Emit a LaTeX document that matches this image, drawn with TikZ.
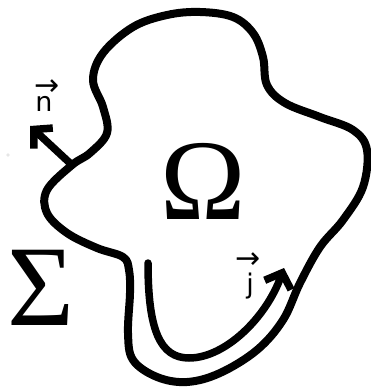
\documentclass[tikz,border=0pt]{standalone}
\usepackage{fix-cm}
\usepackage{fontspec}
\setsansfont{DejaVu Sans}
\newfontfamily\symserif{Liberation Serif}
\usetikzlibrary{arrows.meta,positioning}
\tikzset{
  %% closed boundary of the domain
  boundary/.style={line width=8pt, line join=round, line cap=round},
  %% thick hand-drawn vectors
  vecarr/.style={-{Straight Barb[length=13pt,width=28pt]},
                 line width=7.5pt, line cap=round, line join=round},
  %% large symbols
  bigsym/.style={font=\symserif\fontsize{115}{115}\selectfont, inner sep=0pt},
  %% vector labels (letter and its arrow)
  veclab/.style={font=\sffamily\fontsize{27}{27}\selectfont, inner sep=0pt, anchor=base},
  vecarrow/.style={veclab, font=\sffamily\fontsize{30}{30}\selectfont,
                   text height=14pt, text depth=0pt}
}

\begin{document}
\begin{tikzpicture}[x=1pt, y=-1pt]

\useasboundingbox (0,0) rectangle (370,387);

% ════════════════════════════════════════════════════════════
% BOUNDARY  Sigma
% ════════════════════════════════════════════════════════════
\draw[boundary] plot[smooth cycle, tension=0.6] coordinates {
  (72,165) (47,190) (47,213) (67,233) (97,248) (123,257) (129,270)
  (130,293) (128,333) (133,360) (157,377) (187,382) (220,373)
  (257,350) (283,320) (300,283) (320,247) (343,220) (363,187)
  (367,150) (353,130) (320,117) (285,103) (267,85) (263,57)
  (253,33) (233,17) (200,12) (167,15) (133,27) (103,53) (93,80)
  (103,107) (107,133) (90,153)};

% ════════════════════════════════════════════════════════════
% SYMBOLS
% ════════════════════════════════════════════════════════════
\node[bigsym] (omega) at (203,181) {Ω};
\node[bigsym] (sigma) at (41,288) {Σ};

% faint dot at the left edge
\node[circle, draw=gray!40, line width=0.4pt, inner sep=1pt] (dot) at (8,155) {};

% ════════════════════════════════════════════════════════════
% NORMAL VECTOR
% ════════════════════════════════════════════════════════════
\coordinate (nfoot) at (72,165);
\coordinate (ntip)  at (30,126);
\draw[vecarr] (nfoot) -- (ntip);
\node[veclab, text height=14pt, text depth=0pt] (nlab) at (44,112) {n};
\node[vecarrow] (narr) at (47,96) {→};

% ════════════════════════════════════════════════════════════
% CURRENT  j
% ════════════════════════════════════════════════════════════
\coordinate (jstart) at (148,263);
\coordinate (jlow)   at (189,358);
\coordinate (jtip)   at (284,268);
\draw[vecarr] (jstart) .. controls (148,330) and (160,358) .. (jlow)
                       .. controls (225,358) and (266,318) .. (jtip);
\node[veclab, text height=20pt] (jlab) at (250,293) {j};
\node[vecarrow] (jarr) at (248,268) {→};

\end{tikzpicture}
\end{document}
